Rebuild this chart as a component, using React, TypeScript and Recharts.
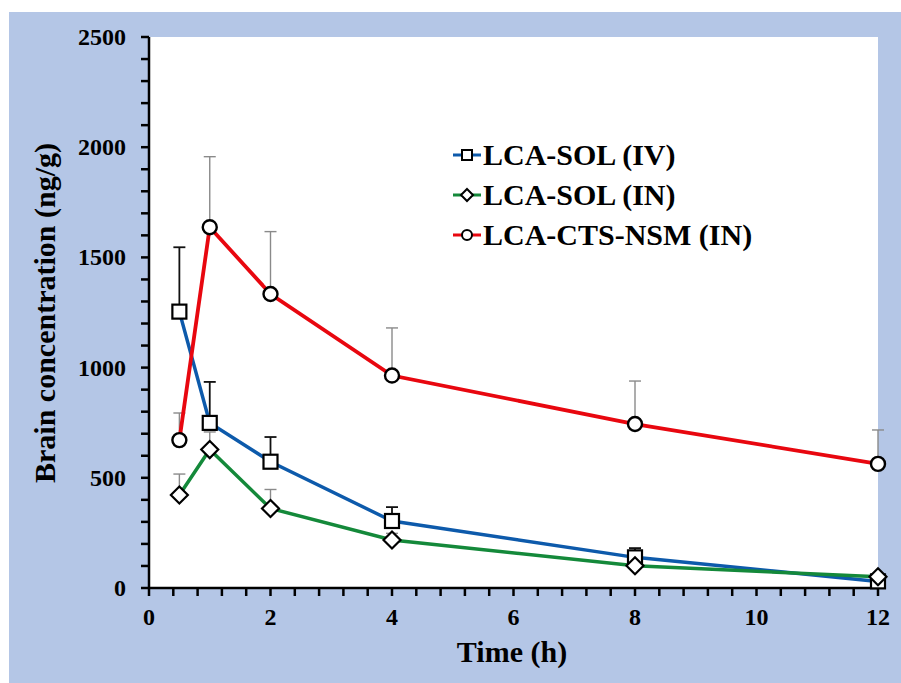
import React from "react";
import { LineChart, Line, XAxis, YAxis, CartesianGrid, ErrorBar, Legend, Label } from "recharts";

const times = [0.5, 1, 2, 4, 8, 12];
const ivMean = [1254, 749, 573, 304, 139, 30];
const ivErr = [292, 186, 112, 63, 42, 10];
const inMean = [422, 628, 361, 218, 101, 51];
const inErr = [95, 80, 86, 30, 20, 10];
const nsmMean = [671, 1637, 1334, 964, 744, 563];
const nsmErr = [123, 320, 283, 216, 195, 154];

const seriesNames = ["LCA-SOL (IV)", "LCA-SOL (IN)", "LCA-CTS-NSM (IN)"];
const xTicks = [0, 0.4, 0.8, 1.2, 1.6, 2, 2.4, 2.8, 3.2, 3.6, 4, 4.4, 4.8, 5.2, 5.6, 6, 6.4, 6.8, 7.2, 7.6, 8, 8.4, 8.8, 9.2, 9.6, 10, 10.4, 10.8, 11.2, 11.6, 12];
const xLabels = [0, 2, 4, 6, 8, 10, 12];
const yTicks = [0, 100, 200, 300, 400, 500, 600, 700, 800, 900, 1000, 1100, 1200, 1300, 1400, 1500, 1600, 1700, 1800, 1900, 2000, 2100, 2200, 2300, 2400, 2500];
const yLabels = [0, 500, 1000, 1500, 2000, 2500];

const data = times.map((t, i) => ({
  t,
  iv: ivMean[i],
  ivE: [0, ivErr[i]],
  inn: inMean[i],
  innE: [0, inErr[i]],
  nsm: nsmMean[i],
  nsmE: [0, nsmErr[i]],
}));

const FONT = "'Liberation Serif', 'Times New Roman', serif";
const BLUE = "#0d5aab";
const GREEN = "#14893a";
const RED = "#e8070f";

const SquareDot = (p: any) => (
  <rect key={`sq-${p.index}`} x={p.cx - 7} y={p.cy - 7} width={14} height={14} fill="#fff" stroke="#000" strokeWidth={2.2} />
);
const DiamondDot = (p: any) => (
  <polygon key={`dm-${p.index}`} points={`${p.cx},${p.cy - 8.5} ${p.cx + 8.5},${p.cy} ${p.cx},${p.cy + 8.5} ${p.cx - 8.5},${p.cy}`} fill="#fff" stroke="#000" strokeWidth={2.2} />
);
const CircleDot = (p: any) => (
  <circle key={`ci-${p.index}`} cx={p.cx} cy={p.cy} r={7} fill="#fff" stroke="#000" strokeWidth={2.4} />
);

const XTick = (p: any) => {
  const v = p.payload.value;
  if (!xLabels.includes(v)) return null;
  return (
    <text x={p.x} y={p.y} dy={27} textAnchor="middle" fontFamily={FONT} fontWeight="bold" fontSize={24} fill="#000">
      {v}
    </text>
  );
};
const YTick = (p: any) => {
  const v = p.payload.value;
  if (!yLabels.includes(v)) return null;
  return (
    <text x={p.x} y={p.y} dy={8} textAnchor="end" fontFamily={FONT} fontWeight="bold" fontSize={24} fill="#000">
      {v}
    </text>
  );
};

const LegendIcon = ({ color, kind }: { color: string; kind: string }) => (
  <svg width={30} height={20} style={{ display: "block" }}>
    <line x1={1} y1={10} x2={29} y2={10} stroke={color} strokeWidth={3} />
    {kind === "sq" && <rect x={10} y={5} width={10} height={10} fill="#fff" stroke="#000" strokeWidth={2} />}
    {kind === "dm" && <polygon points="15,4 21,10 15,16 9,10" fill="#fff" stroke="#000" strokeWidth={2} />}
    {kind === "ci" && <circle cx={15} cy={10} r={5} fill="#fff" stroke="#000" strokeWidth={2} />}
  </svg>
);

const legendItems = [
  { name: seriesNames[0], color: BLUE, kind: "sq" },
  { name: seriesNames[1], color: GREEN, kind: "dm" },
  { name: seriesNames[2], color: RED, kind: "ci" },
];

const LegendContent = () => (
  <div>
    {legendItems.map((it) => (
      <div key={it.name} style={{ display: "flex", alignItems: "center", height: 40 }}>
        <LegendIcon color={it.color} kind={it.kind} />
        <span style={{ fontFamily: FONT, fontWeight: "bold", fontSize: 30, color: "#000", marginLeft: 1, lineHeight: "40px", whiteSpace: "nowrap" }}>
          {it.name}
        </span>
      </div>
    ))}
  </div>
);

export default function App() {
  return (
    <div style={{ position: "fixed", left: 9, top: 12, width: 892, height: 671, background: "#b4c6e6" }}>
      <LineChart width={892} height={671} data={data} margin={{ top: 25, right: 23, bottom: 0, left: 40 }}>
        <CartesianGrid fill="#ffffff" stroke="none" horizontal={false} vertical={false} />
        <XAxis
          dataKey="t"
          type="number"
          domain={[0, 12]}
          ticks={xTicks}
          interval={0}
          height={95}
          tickSize={8}
          tickMargin={2}
          tick={<XTick />}
          axisLine={{ stroke: "#000", strokeWidth: 2.5 }}
          tickLine={{ stroke: "#000", strokeWidth: 2.5 }}
        >
          <Label
            content={() => (
              <text x={503} y={650} textAnchor="middle" fontFamily={FONT} fontWeight="bold" fontSize={30} fill="#000">
                Time (h)
              </text>
            )}
          />
        </XAxis>
        <XAxis xAxisId="top" orientation="top" type="number" domain={[0, 12]} dataKey="t" height={0} tick={false} tickLine={false} axisLine={{ stroke: "#000", strokeWidth: 2.5 }} />
        <YAxis
          type="number"
          domain={[0, 2500]}
          ticks={yTicks}
          interval={0}
          width={100}
          tickSize={8}
          tickMargin={15}
          tick={<YTick />}
          axisLine={{ stroke: "#000", strokeWidth: 2.5 }}
          tickLine={{ stroke: "#000", strokeWidth: 2.5 }}
        >
          <Label
            content={() => (
              <text x={46} y={301} transform="rotate(-90, 46, 301)" textAnchor="middle" fontFamily={FONT} fontWeight="bold" fontSize={30} fill="#000">
                Brain concentration (ng/g)
              </text>
            )}
          />
        </YAxis>
        <YAxis yAxisId="right" orientation="right" type="number" domain={[0, 2500]} width={0} tick={false} tickLine={false} axisLine={{ stroke: "#000", strokeWidth: 2.5 }} />
        <Legend
          layout="vertical"
          verticalAlign="middle"
          align="center"
          content={<LegendContent />}
          wrapperStyle={{ left: 443, top: 123, width: 360 }}
        />
        <Line dataKey="iv" name={seriesNames[0]} type="linear" stroke={BLUE} strokeWidth={3.5} dot={SquareDot} activeDot={false} isAnimationActive={false}>
          <ErrorBar dataKey="ivE" direction="y" width={6} stroke="#111" strokeWidth={1.8} />
        </Line>
        <Line dataKey="inn" name={seriesNames[1]} type="linear" stroke={GREEN} strokeWidth={3.5} dot={DiamondDot} activeDot={false} isAnimationActive={false}>
          <ErrorBar dataKey="innE" direction="y" width={6} stroke="#8a8a8a" strokeWidth={1.4} />
        </Line>
        <Line dataKey="nsm" name={seriesNames[2]} type="linear" stroke={RED} strokeWidth={3.8} dot={CircleDot} activeDot={false} isAnimationActive={false}>
          <ErrorBar dataKey="nsmE" direction="y" width={6} stroke="#8a8a8a" strokeWidth={1.4} />
        </Line>
      </LineChart>
    </div>
  );
}
